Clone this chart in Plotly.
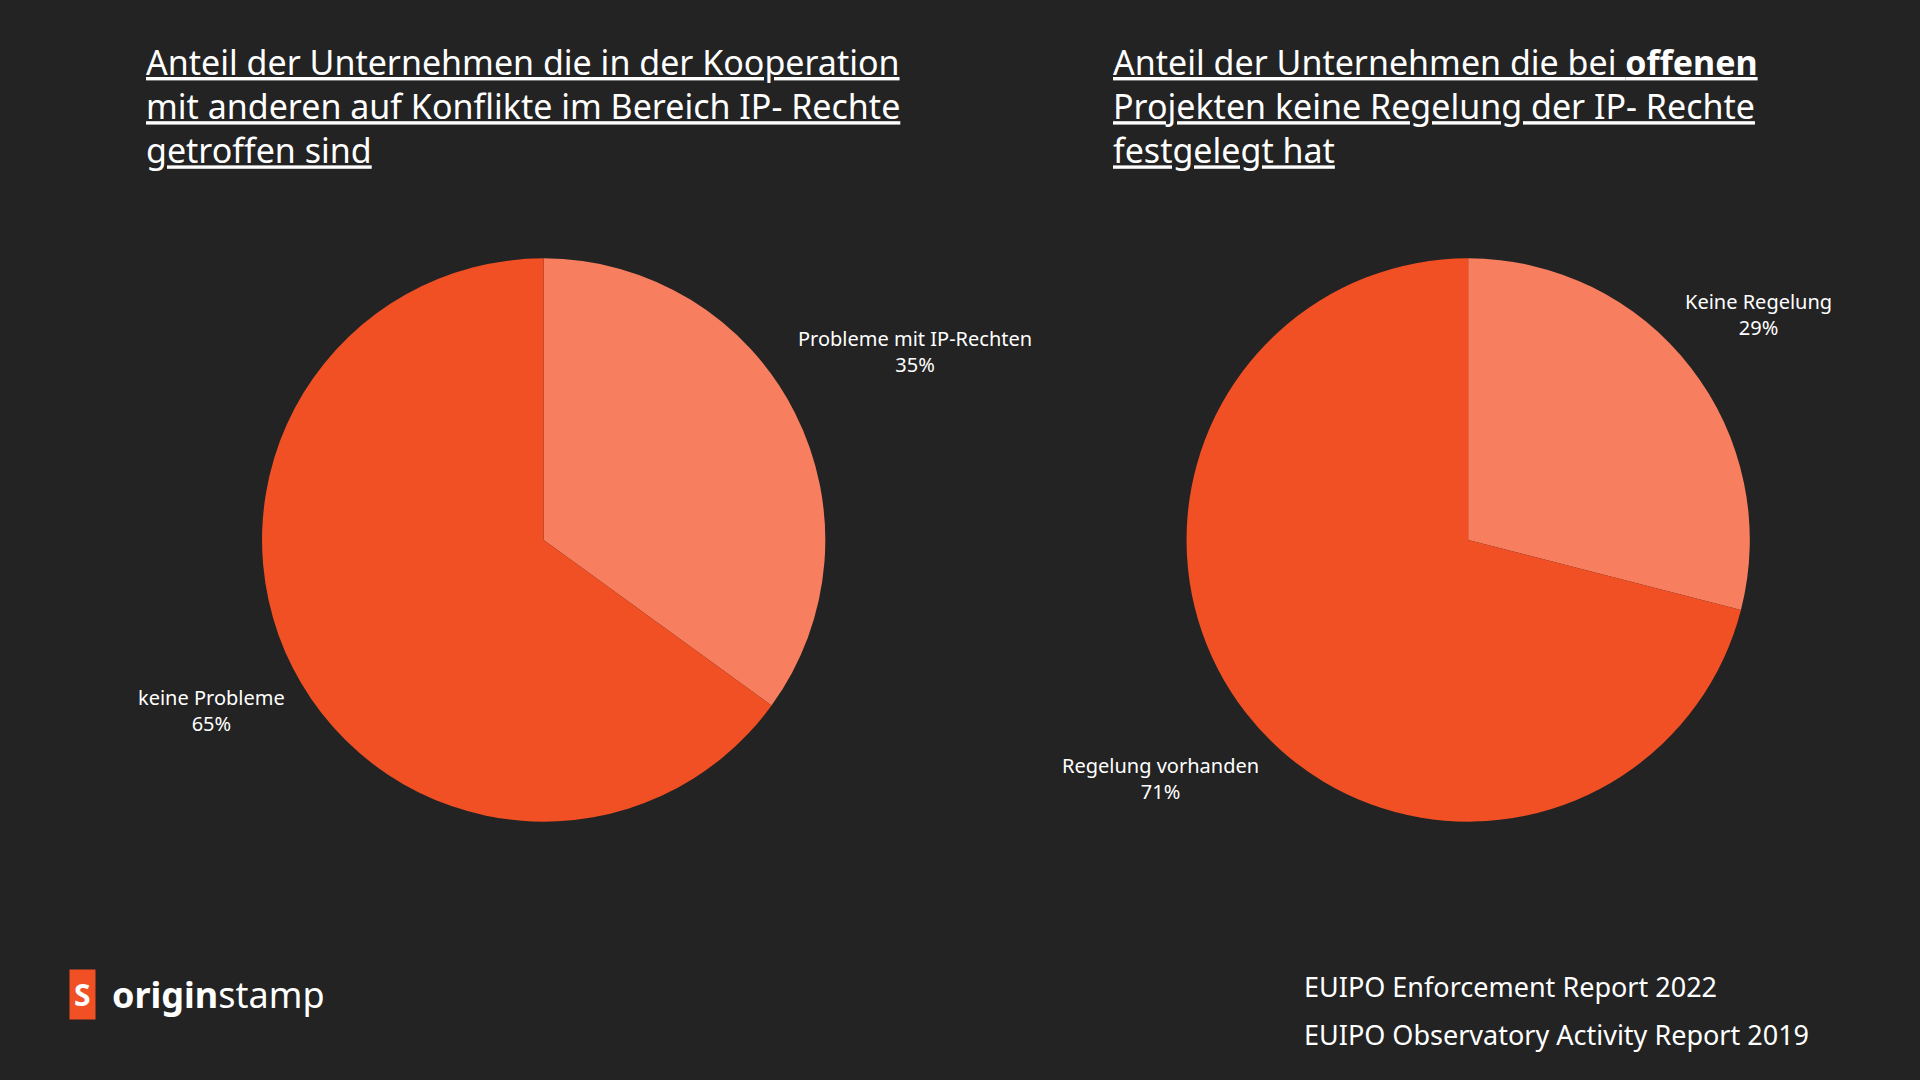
import plotly.graph_objects as go

W, H = 1568, 882  # reference pixel space, mapped to paper coords

left_labels = ["Probleme mit IP-Rechten", "keine Probleme"]
left_values = [35, 65]
right_labels = ["Keine Regelung", "Regelung vorhanden"]
right_values = [29, 71]
colors = ["#F77F5F", "#F15025"]

sources = ["EUIPO Enforcement Report 2022", "EUIPO Observatory Activity Report 2019"]

BG = "#232323"
FONT = "Noto Sans"


def px(x, y):
    return x / W, 1 - y / H


def dom(cx, cy, r):
    return dict(x=[(cx - r) / W, (cx + r) / W], y=[1 - (cy + r) / H, 1 - (cy - r) / H])


fig = go.Figure()
for labels, values, cx in [(left_labels, left_values, 444), (right_labels, right_values, 1199)]:
    fig.add_trace(go.Pie(labels=labels, values=values, sort=False, direction="clockwise",
                         rotation=0, marker=dict(colors=colors, line=dict(width=0)),
                         textinfo="none", hoverinfo="label+percent", showlegend=False,
                         domain=dom(cx, 441, 230)))

ann = []
label_pos = [(747, 287), (173, 580), (1436, 257), (948, 636)]
for (lx, ly), lab, val in zip(label_pos, left_labels + right_labels, left_values + right_values):
    x, y = px(lx, ly)
    ann.append(dict(x=x, y=y, xanchor="center", yanchor="middle", text=f"{lab}<br>{val}%",
                    showarrow=False, font=dict(family=FONT, size=20, color="white")))

titles = [
    (118, "<u>Anteil der Unternehmen die in der Kooperation</u><br><u>mit anderen auf Konflikte im Bereich IP- Rechte</u><br><u>getroffen sind</u>"),
    (907, "<u>Anteil der Unternehmen die bei <b>offenen</b></u><br><u>Projekten keine Regelung der IP- Rechte</u><br><u>festgelegt hat</u>"),
]
for tx, t in titles:
    x, y = px(tx, 30)
    ann.append(dict(x=x, y=y, xanchor="left", yanchor="top", align="left", text=t,
                    showarrow=False, font=dict(family=FONT, size=34, color="white")))

for i, s in enumerate(sources):
    x, y = px(1063, 806 + 39 * i)
    ann.append(dict(x=x, y=y, xanchor="left", yanchor="middle", text=s, showarrow=False,
                    font=dict(family=FONT, size=27, color="white")))

# logo
x, y = px(67, 812)
ann.append(dict(x=x, y=y, xanchor="center", yanchor="middle", text="<b>S</b>", showarrow=False,
                bgcolor="#F15025", font=dict(family=FONT, size=30, color="white"), borderpad=4))
x, y = px(90, 812)
ann.append(dict(x=x, y=y, xanchor="left", yanchor="middle", text="<b>origin</b>stamp",
                showarrow=False, font=dict(family=FONT, size=36, color="white")))

for a in ann:
    a["xref"] = "paper"
    a["yref"] = "paper"

fig.update_layout(width=1920, height=1080, paper_bgcolor=BG, plot_bgcolor=BG,
                  margin=dict(l=0, r=0, t=0, b=0), annotations=ann)
fig.write_html("out.html", config={"displayModeBar": False},
               post_script="document.body.style.margin='0';document.body.style.background='#232323';")
